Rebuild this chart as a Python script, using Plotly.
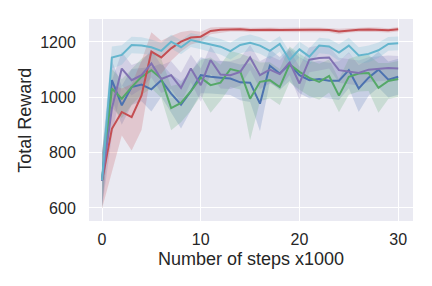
import plotly.graph_objects as go

steps = list(range(31))

blue = [700, 1062, 971, 1037, 1046, 1029, 1062, 1013, 973, 1022, 1080, 1074, 1071, 1068, 1054, 1053, 977, 1114, 1086, 1119, 1080, 1062, 1066, 1060, 1060, 1098, 1032, 1071, 1100, 1064, 1074]
blue_sd = [100, 70, 70, 65, 60, 80, 60, 70, 86, 70, 65, 60, 60, 60, 65, 70, 100, 60, 60, 60, 65, 65, 65, 65, 70, 65, 85, 65, 65, 65, 65]

green = [700, 1032, 995, 1037, 1074, 1098, 1068, 961, 980, 1022, 1071, 1044, 1053, 1102, 1093, 995, 1056, 1062, 1037, 1119, 1092, 1070, 1056, 1077, 1006, 1074, 1086, 1088, 1034, 1059, 1066]
green_sd = [100, 70, 70, 65, 65, 65, 70, 80, 70, 70, 65, 100, 65, 65, 65, 150, 70, 65, 65, 65, 65, 65, 65, 60, 60, 65, 65, 65, 90, 65, 65]

red = [698, 886, 947, 928, 1007, 1165, 1144, 1177, 1201, 1216, 1219, 1240, 1244, 1246, 1246, 1243, 1244, 1244, 1243, 1244, 1244, 1244, 1244, 1243, 1238, 1242, 1244, 1245, 1244, 1242, 1246]
red_sd = [100, 160, 85, 120, 125, 70, 60, 45, 35, 25, 18, 12, 10, 8, 8, 8, 8, 8, 8, 8, 8, 8, 8, 8, 10, 8, 8, 8, 8, 8, 8]

purple = [698, 960, 1104, 1062, 1080, 1122, 1066, 1080, 1034, 1104, 1044, 1135, 1082, 1080, 1092, 1144, 1080, 1100, 1084, 1126, 1050, 1136, 1142, 1144, 1098, 1092, 1088, 1100, 1104, 1106, 1104]
purple_sd = [100, 100, 60, 55, 50, 50, 50, 50, 55, 50, 60, 50, 50, 50, 50, 45, 50, 50, 50, 45, 60, 45, 45, 40, 45, 45, 45, 45, 45, 45, 45]

cyan = [700, 1144, 1153, 1189, 1187, 1181, 1168, 1201, 1181, 1207, 1199, 1192, 1183, 1167, 1189, 1197, 1187, 1168, 1193, 1135, 1173, 1147, 1187, 1184, 1162, 1187, 1151, 1157, 1170, 1193, 1195]
cyan_sd = [100, 40, 35, 30, 30, 28, 28, 25, 25, 25, 25, 28, 28, 30, 30, 30, 30, 30, 28, 30, 28, 30, 28, 28, 30, 28, 30, 30, 28, 25, 25]

series = [
    (blue, blue_sd, (76, 114, 176)),
    (green, green_sd, (85, 168, 104)),
    (red, red_sd, (196, 78, 82)),
    (purple, purple_sd, (129, 114, 178)),
    (cyan, cyan_sd, (100, 181, 205)),
]

fig = go.Figure()
for mean, sd, (r, g, b) in series:
    upper = [m + s for m, s in zip(mean, sd)]
    lower = [m - s for m, s in zip(mean, sd)]
    fig.add_trace(go.Scatter(x=steps, y=upper, mode="lines", line=dict(width=0),
                             showlegend=False, hoverinfo="skip"))
    fig.add_trace(go.Scatter(x=steps, y=lower, mode="lines", line=dict(width=0),
                             fill="tonexty", fillcolor=f"rgba({r},{g},{b},0.22)",
                             showlegend=False, hoverinfo="skip"))
for mean, sd, (r, g, b) in series:
    fig.add_trace(go.Scatter(x=steps, y=mean, mode="lines",
                             line=dict(color=f"rgb({r},{g},{b})", width=2),
                             showlegend=False))

font_family = "Liberation Sans, Arial, sans-serif"
fig.update_layout(
    width=432, height=286,
    margin=dict(l=89, r=19, t=19, b=65, autoexpand=False),
    paper_bgcolor="white",
    plot_bgcolor="#EAEAF2",
    font=dict(family=font_family, color="#262626", size=16),
    showlegend=False,
    annotations=[
        dict(text="Number of steps x1000", xref="paper", yref="paper",
             x=0.5, y=-0.19, xanchor="center", yanchor="middle", showarrow=False,
             font=dict(size=18, color="#262626")),
        dict(text="Total Reward", xref="paper", yref="paper",
             x=-0.198, y=0.5, xanchor="center", yanchor="middle", showarrow=False,
             textangle=-90, font=dict(size=18, color="#262626")),
    ],
)
fig.update_xaxes(
    range=[-1.32, 31.5], tickvals=[0, 10, 20, 30], automargin=False,
    showgrid=True, gridcolor="white", gridwidth=1.2, zeroline=False,
    showline=False, ticks="outside", ticklen=4, tickcolor="rgba(0,0,0,0)",
    tickfont=dict(size=16, color="#262626"),
)
fig.update_yaxes(
    range=[553, 1283], tickvals=[600, 800, 1000, 1200], automargin=False,
    showgrid=True, gridcolor="white", gridwidth=1.2, zeroline=False,
    showline=False, ticks="outside", ticklen=9, tickcolor="rgba(0,0,0,0)",
    tickfont=dict(size=16, color="#262626"),
)

fig.write_html("out.html", config={"displayModeBar": False},
               post_script="document.body.style.margin='0';")
